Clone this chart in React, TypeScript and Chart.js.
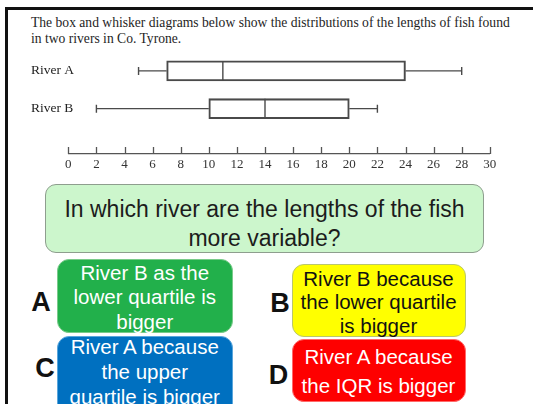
import React, { useEffect, useRef } from "react";
import { Chart, registerables } from "chart.js";

Chart.register(...registerables);

// ---- data ----
const rivers = ["River A", "River B"];
const minimums = [5, 2];
const lowerQuartiles = [7, 10];
const medians = [11, 14];
const upperQuartiles = [24, 20];
const maximums = [28, 22];
const axisMin = 0;
const axisMax = 30;
const axisStep = 2;

const titleLines = [
  "The box and whisker diagrams below show the distributions of the lengths of fish found",
  "in two rivers in Co. Tyrone.",
];
const questionLines = ["In which river are the lengths of the fish", "more variable?"];
const answerLetters = ["A", "B", "C", "D"];
const answerTexts = [
  ["River B as the", "lower quartile is", "bigger"],
  ["River B because", "the lower quartile", "is bigger"],
  ["River A because", "the upper", "quartile is bigger"],
  ["River A because", "the IQR is bigger"],
];

// ---- styles ----
const SERIF = '"Liberation Serif", "Times New Roman", serif';
const SANS = '"Liberation Sans", Arial, sans-serif';
const CANVAS_TOP = 44;
const LABEL_X = 31;

const answerStyles = [
  { left: 56.5, top: 258.5, width: 176.5, height: 74.5, bg: "#22b04b", border: "#7acb8a", color: "#ffffff", textTop: 260.7, lh: 24.5, lx: 41, ly: 301.7 },
  { left: 291.5, top: 263.5, width: 174, height: 73, bg: "#ffff00", border: "#b9c66e", color: "#111111", textTop: 266.8, lh: 23.4, lx: 280, ly: 303.3 },
  { left: 56.5, top: 336, width: 176.5, height: 100, bg: "#0070c0", border: "#5aa6dc", color: "#ffffff", textTop: 334.4, lh: 25, lx: 45, ly: 368 },
  { left: 291.5, top: 338.5, width: 174, height: 63.5, bg: "#fe0000", border: "#ff6a6a", color: "#ffffff", textTop: 341.7, lh: 29, lx: 278.5, ly: 375 },
];

const boxWhiskerPlugin = {
  id: "boxWhiskers",
  afterDatasetsDraw(chart: any) {
    const { ctx, scales, chartArea } = chart;
    const x = scales.x;
    const y = scales.y;
    const px = (v: number) => x.getPixelForValue(v);
    ctx.save();
    ctx.strokeStyle = "#4a4a4a";
    ctx.lineWidth = 1.4;
    rivers.forEach((name, i) => {
      const cy = y.getPixelForValue(i);
      ctx.beginPath();
      ctx.moveTo(px(minimums[i]), cy);
      ctx.lineTo(px(lowerQuartiles[i]), cy);
      ctx.moveTo(px(upperQuartiles[i]), cy);
      ctx.lineTo(px(maximums[i]), cy);
      ctx.moveTo(px(minimums[i]), cy - 4);
      ctx.lineTo(px(minimums[i]), cy + 4);
      ctx.moveTo(px(maximums[i]), cy - 4);
      ctx.lineTo(px(maximums[i]), cy + 4);
      ctx.moveTo(px(medians[i]), cy - 10);
      ctx.lineTo(px(medians[i]), cy + 10);
      ctx.stroke();
      ctx.fillStyle = "#222222";
      ctx.font = `13.5px ${SERIF}`;
      ctx.textAlign = "left";
      ctx.textBaseline = "middle";
      ctx.fillText(name, LABEL_X, cy);
    });
    // upward tick marks of the number line
    ctx.beginPath();
    ctx.strokeStyle = "#555555";
    ctx.lineWidth = 1.3;
    x.ticks.forEach((_t: any, k: number) => {
      const tx = Math.round(x.getPixelForTick(k)) + 0.5;
      ctx.moveTo(tx, chartArea.bottom);
      ctx.lineTo(tx, chartArea.bottom - 7);
    });
    ctx.stroke();
    ctx.restore();
  },
};

function BoxChart() {
  const ref = useRef<HTMLCanvasElement>(null);
  useEffect(() => {
    if (!ref.current) return;
    const chart = new Chart(ref.current, {
      type: "bar",
      data: {
        labels: rivers,
        datasets: [
          {
            data: rivers.map((_, i) => ({ x: [lowerQuartiles[i], upperQuartiles[i]], y: i })) as any,
            backgroundColor: "rgba(255,255,255,0)",
            borderColor: "#4a4a4a",
            borderWidth: 1.4,
            borderSkipped: false,
            barThickness: 20,
          },
        ],
      },
      options: {
        indexAxis: "y",
        animation: false,
        responsive: false,
        devicePixelRatio: 1,
        layout: { padding: { left: 68.3, right: 43.2, top: 8, bottom: 0 } },
        plugins: { legend: { display: false }, tooltip: { enabled: false }, title: { display: false } },
        scales: {
          y: { type: "linear", reverse: true, min: -0.5, max: 2.2, offset: false, display: false },
          x: {
            type: "linear",
            min: axisMin,
            max: axisMax,
            position: "bottom",
            offset: false,
            ticks: { stepSize: axisStep, color: "#333333", padding: 3, font: { family: SERIF, size: 13 } },
            grid: { display: false, drawTicks: false },
            border: { display: true, color: "#555555", width: 1.3 },
            afterFit: (s: any) => {
              s.height = 26;
            },
          },
        },
      } as any,
      plugins: [boxWhiskerPlugin],
    });
    return () => chart.destroy();
  }, []);
  return (
    <canvas
      ref={ref}
      width={533}
      height={136}
      style={{ position: "absolute", left: 0, top: CANVAS_TOP, width: 533, height: 136 }}
    />
  );
}

export default function App() {
  return (
    <div style={{ position: "fixed", left: 0, top: 0, width: 533, height: 404, overflow: "hidden", background: "#ffffff" }}>
      {/* frame */}
      <div style={{ position: "absolute", left: 5, top: 7, width: 528, height: 3, background: "#111" }} />
      <div style={{ position: "absolute", left: 5, top: 7, width: 3, height: 397, background: "#111" }} />
      {/* title */}
      <div
        style={{
          position: "absolute",
          left: 31,
          top: 14.5,
          fontFamily: SERIF,
          fontSize: 13.6,
          lineHeight: "16.3px",
          color: "#1e1e1e",
          whiteSpace: "nowrap",
        }}
      >
        {titleLines.map((l, i) => (
          <div key={i}>{l}</div>
        ))}
      </div>
      <BoxChart />
      {/* question */}
      <div
        style={{
          position: "absolute",
          left: 45,
          top: 183.5,
          width: 439,
          height: 69,
          boxSizing: "border-box",
          border: "1.5px solid #8e9e8e",
          borderRadius: 11,
          background: "#ccf6cc",
        }}
      />
      <div
        style={{
          position: "absolute",
          left: 45,
          top: 194.5,
          width: 439,
          textAlign: "center",
          fontFamily: SANS,
          fontSize: 23,
          lineHeight: "29.5px",
          color: "#1c1c1c",
        }}
      >
        {questionLines.map((l, i) => (
          <div key={i}>{l}</div>
        ))}
      </div>
      {/* answers */}
      {answerLetters.map((letter, i) => {
        const s = answerStyles[i];
        return (
          <React.Fragment key={letter}>
            <div
              style={{
                position: "absolute",
                left: s.left,
                top: s.top,
                width: s.width,
                height: s.height,
                boxSizing: "border-box",
                background: s.bg,
                border: `1.5px solid ${s.border}`,
                borderRadius: 12,
              }}
            />
            <div
              style={{
                position: "absolute",
                left: s.left,
                top: s.textTop,
                width: s.width,
                textAlign: "center",
                fontFamily: SANS,
                fontSize: 20.5,
                lineHeight: `${s.lh}px`,
                color: s.color,
                whiteSpace: "nowrap",
              }}
            >
              {answerTexts[i].map((l, k) => (
                <div key={k}>{l}</div>
              ))}
            </div>
            <div
              style={{
                position: "absolute",
                left: s.lx,
                top: s.ly,
                transform: "translate(-50%, -50%)",
                fontFamily: SANS,
                fontWeight: "bold",
                fontSize: 27,
                lineHeight: 1,
                color: "#111",
              }}
            >
              {letter}
            </div>
          </React.Fragment>
        );
      })}
    </div>
  );
}
